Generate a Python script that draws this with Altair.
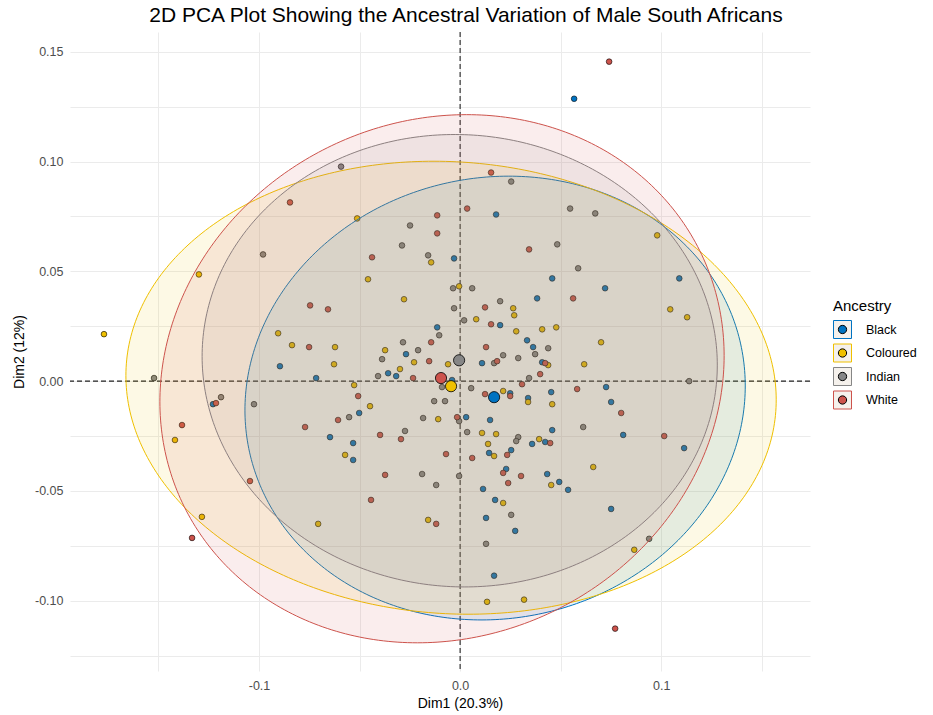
import numpy as np
import pandas as pd
import altair as alt

groups = ["Black", "Coloured", "Indian", "White"]
palette = ["#0073C2", "#EFC000", "#868686", "#CD534C"]

black_dim1 = [0.0567, 0.0179, -0.0896, -0.0716, -0.0269, -0.0114, -0.0358, -0.0318, -0.0502, -0.0647,
              -0.0532, -0.0030, 0.0458, 0.0721, 0.0383, 0.0199, 0.0333, 0.0363, 0.0109, 0.0408,
              -0.0040, 0.0249, 0.0726, 0.0453, 0.0338, 0.0751, 0.0030, 0.0149, 0.0458, 0.0811,
              0.0423, 0.0358, 0.0144, 0.0254, 0.0229, 0.0433, 0.0493, 0.0537, 0.0114, 0.0174,
              0.0751, 0.0129, 0.0274, 0.0169, -0.0532, -0.1229, 0.1090, 0.1114]
black_dim2 = [0.1286, 0.0759, 0.0068, 0.0014, 0.0123, 0.0245, 0.0036, 0.0023, -0.0145, -0.0255,
              -0.0282, 0.0559, 0.0468, 0.0423, 0.0377, 0.0255, 0.0186, 0.0155, 0.0082, 0.0086,
              0.0005, -0.0055, -0.0027, -0.0050, -0.0077, -0.0095, -0.0164, -0.0177, -0.0223, -0.0245,
              -0.0277, -0.0286, -0.0327, -0.0314, -0.0400, -0.0423, -0.0459, -0.0495, -0.0491, -0.0541,
              -0.0582, -0.0623, -0.0682, -0.0886, -0.0359, -0.0105, 0.0468, -0.0305]

coloured_dim1 = [-0.0512, -0.0144, -0.0458, -0.0279, -0.0905, -0.0836, -0.0622, -0.0627, -0.0373, -0.0229,
                 -0.0299, -0.0527, -0.0448, -0.0109, -0.0005, 0.0264, 0.0269, 0.0080, 0.0279, 0.0408,
                 0.0478, 0.0701, 0.0438, 0.0617, -0.0060, 0.0214, 0.0338, 0.0458, 0.0109, 0.0179,
                 0.0393, 0.0139, 0.0169, 0.0662, 0.0453, 0.0214, 0.0134, 0.0318, -0.0572, -0.0159,
                 -0.0706, -0.1418, -0.1284, -0.1299, -0.1771, 0.0980, 0.1045, 0.1129, 0.0866]
coloured_dim2 = [0.0741, 0.0541, 0.0464, 0.0373, 0.0218, 0.0164, 0.0155, 0.0077, 0.0141, 0.0086,
                 0.0055, -0.0018, -0.0114, -0.0173, 0.0432, 0.0332, 0.0300, 0.0282, 0.0227, 0.0236,
                 0.0245, 0.0177, 0.0073, 0.0077, 0.0077, -0.0045, -0.0095, -0.0105, -0.0236, -0.0241,
                 -0.0264, -0.0286, -0.0341, -0.0391, -0.0473, -0.0555, -0.1005, -0.0995, -0.0336, -0.0632,
                 -0.0650, -0.0268, -0.0618, 0.0486, 0.0214, 0.0664, 0.0327, 0.0291, -0.0768]

indian_dim1 = [-0.0592, 0.0254, 0.0547, 0.0672, -0.0249, -0.0980, -0.0289, -0.0159, -0.0284, -0.0209,
               -0.0104, -0.0388, -0.0408, -0.1025, -0.0129, -0.0552, -0.0184, -0.0274, 0.0483, 0.0587,
               -0.0035, 0.0060, 0.0199, -0.0030, 0.0020, 0.0438, 0.0373, 0.0214, 0.0289, 0.0169,
               0.0343, -0.0090, 0.0055, -0.0075, -0.0005, 0.0612, 0.0035, 0.0289, 0.0279, -0.0005,
               -0.0119, 0.0254, 0.0129, -0.0189, -0.1522, -0.1189, 0.1139, 0.0940]
indian_dim2 = [0.0977, 0.0909, 0.0786, 0.0764, 0.0709, 0.0577, 0.0618, 0.0573, 0.0177, 0.0141,
               0.0209, 0.0100, 0.0023, -0.0105, -0.0091, -0.0164, -0.0168, -0.0227, 0.0623, 0.0514,
               0.0423, 0.0423, 0.0364, 0.0332, 0.0277, 0.0150, 0.0123, 0.0118, 0.0105, 0.0082,
               0.0014, -0.0027, -0.0032, -0.0091, -0.0182, -0.0209, -0.0232, -0.0255, -0.0273, -0.0432,
               -0.0473, -0.0609, -0.0741, -0.0423, 0.0014, -0.0073, 0.0000, -0.0718]

white_dim1 = [0.0741, 0.0154, -0.0846, -0.0114, 0.0035, -0.0114, -0.0438, -0.0746, -0.0657, -0.0751,
              -0.0144, -0.0154, -0.0234, -0.0507, -0.0607, -0.0771, -0.0398, -0.0294, 0.0343, 0.0562,
              0.0124, 0.0154, 0.0129, 0.0184, 0.0423, 0.0398, 0.0308, 0.0124, 0.0249, 0.0582,
              0.0801, -0.0015, 0.0448, -0.0070, 0.0060, 0.0234, 0.0214, 0.0303, 0.0239, -0.0119,
              0.0771, -0.0373, -0.0443, -0.1045, -0.1333, -0.1214, -0.1383, 0.1015]
white_dim2 = [0.1455, 0.0950, 0.0814, 0.0755, 0.0786, 0.0673, 0.0564, 0.0345, 0.0327, 0.0155,
              0.0177, 0.0091, 0.0014, -0.0068, -0.0177, -0.0209, -0.0245, -0.0264, 0.0600, 0.0377,
              0.0336, 0.0259, 0.0155, 0.0091, 0.0082, 0.0032, -0.0014, -0.0059, -0.0068, -0.0036,
              -0.0145, -0.0164, -0.0282, -0.0332, -0.0350, -0.0336, -0.0418, -0.0432, -0.0464, -0.0650,
              -0.1127, -0.0427, -0.0541, -0.0455, -0.0714, -0.0100, -0.0200, -0.0250]

centroid_dim1 = [0.0169, -0.0045, -0.0005, -0.0095]
centroid_dim2 = [-0.0073, -0.0023, 0.0095, 0.0014]

# concentration ellipses: centre, half-widths and tilt per group
ell_cx = [0.0174, -0.0045, -0.0002, -0.0090]
ell_cy = [-0.0077, -0.0030, 0.0093, 0.0011]
ell_a = [0.1244, 0.1617, 0.1281, 0.1403]
ell_b = [0.1009, 0.1030, 0.1030, 0.1198]
ell_tilt = [0.0055, -0.0055, -0.0020, 0.0105]

x_ticks = [-0.15, -0.1, -0.05, 0.0, 0.05, 0.1, 0.15]
y_ticks = [-0.125, -0.1, -0.075, -0.05, -0.025, 0.0, 0.025, 0.05, 0.075, 0.1, 0.125, 0.15]

rows = []
for g, xs, ys in [("Black", black_dim1, black_dim2), ("Coloured", coloured_dim1, coloured_dim2),
                  ("Indian", indian_dim1, indian_dim2), ("White", white_dim1, white_dim2)]:
    for x, y in zip(xs, ys):
        rows.append({"Ancestry": g, "Dim1": x, "Dim2": y})
points = pd.DataFrame(rows)
centroids = pd.DataFrame({"Ancestry": groups, "Dim1": centroid_dim1, "Dim2": centroid_dim2})

erows = []
tt = np.linspace(0, np.pi, 181)
for g, cx, cy, a, b, c in zip(groups, ell_cx, ell_cy, ell_a, ell_b, ell_tilt):
    for k, t in enumerate(tt):
        erows.append({"Ancestry": g, "Dim1": cx + a * np.cos(t),
                      "Dim2": cy + b * np.sin(t) + c * np.cos(t),
                      "bottom": cy - b * np.sin(t) + c * np.cos(t), "k": k})
ellipses = pd.DataFrame(erows)

FONT = "Liberation Sans"
xscale = alt.Scale(domain=[-0.194, 0.174], nice=False, zero=False)
yscale = alt.Scale(domain=[-0.132, 0.159], nice=False, zero=False)
xaxis = alt.Axis(values=x_ticks, grid=True, ticks=False, domain=False, format=".1f",
                 labelExpr="abs(datum.value*10 - round(datum.value*10)) < 0.01 ? replace(datum.label, '\u2212', '-') : ''",
                 labelPadding=8, titlePadding=5, titleX=390)
yaxis = alt.Axis(values=y_ticks, grid=True, ticks=False, domain=False, format=".2f",
                 labelExpr="abs(datum.value*20 - round(datum.value*20)) < 0.01 ? replace(datum.label, '\u2212', '-') : ''",
                 labelPadding=7, titlePadding=8)
X = alt.X("Dim1:Q", title="Dim1 (20.3%)", scale=xscale, axis=xaxis)
Y = alt.Y("Dim2:Q", title="Dim2 (12%)", scale=yscale, axis=yaxis)

SQUARE = "M -1 -1 H 1 V 1 H -1 Z"
DOT = "M -1 -1 Z M 1 1 Z M -0.46 0 A 0.46 0.46 0 1 0 0.46 0 A 0.46 0.46 0 1 0 -0.46 0 Z"
common_leg = dict(orient="none", legendX=763, symbolSize=324, symbolStrokeWidth=1,
                  rowPadding=0.5, padding=0, labelOffset=14,
                  labelFont=FONT, labelFontSize=12.5, labelColor="black")
ell_leg = alt.Legend(title="Ancestry", legendY=267, symbolType=SQUARE, symbolFillColor="#F5F1EC",
                     titlePadding=6, titleFont=FONT, titleFontSize=15, titleFontWeight="normal",
                     titleColor="black", **common_leg)
pt_leg = alt.Legend(title=None, legendY=288, symbolType=DOT, symbolStrokeColor="black",
                    labelExpr="''", zindex=3, **common_leg)

color_enc = alt.Color("Ancestry:N", scale=alt.Scale(range=palette), legend=pt_leg)

vline = alt.Chart(pd.DataFrame({"Dim1": [0.0]})).mark_rule(
    color="#222222", strokeDash=[5, 3], strokeWidth=1.1).encode(x=X)
hline = alt.Chart(pd.DataFrame({"Dim2": [0.0]})).mark_rule(
    color="#222222", strokeDash=[5, 3], strokeWidth=1.1).encode(y=Y)

pts = alt.Chart(points).mark_circle(size=32, opacity=1, stroke="black", strokeWidth=0.6).encode(
    x=X, y=Y, color=color_enc)

ell = alt.Chart(ellipses).mark_area(orient="vertical", fillOpacity=0.1, strokeWidth=1).encode(
    x=X, y=Y, y2="bottom:Q",
    fill=alt.Fill("Ancestry:N", scale=alt.Scale(range=palette), legend=None),
    stroke=alt.Stroke("Ancestry:N", scale=alt.Scale(domain=groups, range=palette), legend=ell_leg),
    detail="Ancestry:N")

cen = alt.Chart(centroids).mark_circle(size=125, opacity=1, stroke="black", strokeWidth=0.8).encode(
    x=X, y=Y, color=color_enc)

chart = alt.layer(vline, hline, pts, ell, cen).properties(
    width=740, height=639,
    title=alt.TitleParams("2D PCA Plot Showing the Ancestral Variation of Male South Africans",
                          font=FONT, fontSize=21, fontWeight="normal", color="black",
                          anchor="middle", dx=26, offset=5),
    autosize=alt.AutoSizeParams(type="none"),
    padding={"left": 70, "top": 32, "right": 123, "bottom": 44},
    background="white",
).configure_view(strokeWidth=0).configure_axis(
    gridColor="#EBEBEB", gridWidth=1, labelFont=FONT, labelFontSize=12.5, labelColor="#4D4D4D",
    titleFont=FONT, titleFontSize=14, titleFontWeight="normal", titleColor="black")

chart.save("out.html", embed_options={"renderer": "svg", "actions": False})
